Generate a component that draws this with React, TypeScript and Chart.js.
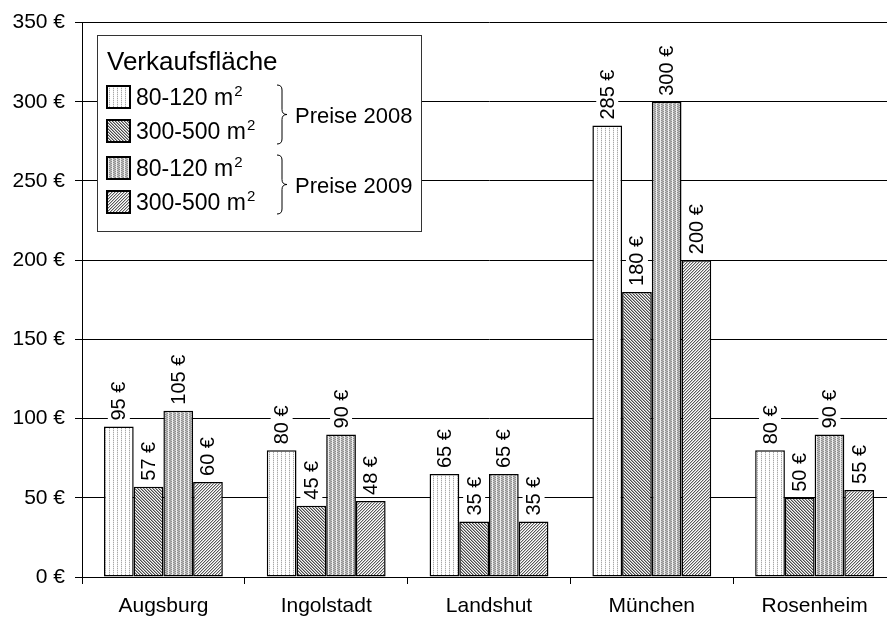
import React, { useEffect, useRef } from 'react';
import { Chart, registerables } from 'chart.js';

Chart.register(...registerables);

const categories = ['Augsburg', 'Ingolstadt', 'Landshut', 'München', 'Rosenheim'];
const small2008 = [95, 80, 65, 285, 80];
const large2008 = [57, 45, 35, 180, 50];
const small2009 = [105, 90, 65, 300, 90];
const large2009 = [60, 48, 35, 200, 55];
const yMin = 0;
const yMax = 350;
const yStep = 50;
const currency = '€';
const legendTitle = 'Verkaufsfläche';
const seriesLabels = ['80-120 m²', '300-500 m²', '80-120 m²', '300-500 m²'];
const groupLabels = ['Preise 2008', 'Preise 2009'];

const FONT = '"Liberation Sans", Arial, Helvetica, sans-serif';

function makePattern(w: number, h: number, fn: (x: number, y: number) => string): CanvasPattern | string {
  const c = document.createElement('canvas');
  c.width = w;
  c.height = h;
  const ctx = c.getContext('2d');
  if (!ctx) return '#ccc';
  for (let y = 0; y < h; y++) {
    for (let x = 0; x < w; x++) {
      ctx.fillStyle = fn(x, y);
      ctx.fillRect(x, y, 1, 1);
    }
  }
  const tmp = document.createElement('canvas').getContext('2d');
  return (tmp && tmp.createPattern(c, 'repeat')) || '#ccc';
}

function buildPatterns() {
  const p1 = makePattern(4, 2, (x, y) => (x === 1 ? (y === 0 ? '#a8a8a8' : '#e4e4e4') : '#ffffff'));
  const p2 = makePattern(3, 3, (x, y) => {
    const m = (((x - y) % 3) + 3) % 3;
    return ['#4a4a4a', '#a8a8a8', '#f8f8f8'][m];
  });
  const p3 = makePattern(4, 2, (x, y) => {
    if (x === 0) return '#eeeeee';
    if (x === 1) return y === 0 ? '#8c8c8c' : '#cccccc';
    if (x === 2) return '#a4a4a4';
    return y === 0 ? '#cccccc' : '#8c8c8c';
  });
  const p4 = makePattern(3, 3, (x, y) => {
    const m = (x + y) % 3;
    return ['#5a5a5a', '#c4c4c4', '#ffffff'][m];
  });
  return [p1, p2, p3, p4];
}

const barLabelPlugin = {
  id: 'barLabels',
  afterDatasetsDraw(chart: any) {
    const ctx = chart.ctx;
    ctx.save();
    ctx.font = `20px ${FONT}`;
    chart.data.datasets.forEach((ds: any, di: number) => {
      const meta = chart.getDatasetMeta(di);
      meta.data.forEach((bar: any, i: number) => {
        const text = `${ds.data[i]} ${currency}`;
        const w = ctx.measureText(text).width;
        ctx.save();
        ctx.translate(bar.x, bar.y - 6);
        ctx.rotate(-Math.PI / 2);
        ctx.fillStyle = '#ffffff';
        ctx.fillRect(-2, -11, w + 4, 22);
        ctx.fillStyle = '#000000';
        ctx.textAlign = 'left';
        ctx.textBaseline = 'middle';
        ctx.fillText(text, 0, 1);
        ctx.restore();
      });
    });
    ctx.restore();
  },
};

function drawBrace(ctx: CanvasRenderingContext2D, x: number, y0: number, y1: number, w: number) {
  const ym = (y0 + y1) / 2;
  const xm = x + w / 2;
  const r = 5;
  ctx.beginPath();
  ctx.moveTo(x, y0);
  ctx.quadraticCurveTo(xm, y0, xm, y0 + r);
  ctx.lineTo(xm, ym - r);
  ctx.quadraticCurveTo(xm, ym, x + w, ym);
  ctx.quadraticCurveTo(xm, ym, xm, ym + r);
  ctx.lineTo(xm, y1 - r);
  ctx.quadraticCurveTo(xm, y1, x, y1);
  ctx.stroke();
}

function makeLegendPlugin(patterns: any[]) {
  return {
    id: 'customLegend',
    afterDraw(chart: any) {
      const ctx: CanvasRenderingContext2D = chart.ctx;
      ctx.save();
      const bx = 97.5, by = 35.5, bw = 324, bh = 196;
      ctx.fillStyle = '#ffffff';
      ctx.fillRect(bx, by, bw, bh);
      ctx.strokeStyle = '#333333';
      ctx.lineWidth = 1;
      ctx.strokeRect(bx, by, bw, bh);

      ctx.fillStyle = '#000000';
      ctx.textBaseline = 'alphabetic';
      ctx.textAlign = 'left';
      ctx.font = `26px ${FONT}`;
      ctx.fillText(legendTitle, 107, 70);

      const rows = [97, 131, 168, 202];
      rows.forEach((cy, i) => {
        ctx.fillStyle = patterns[i];
        ctx.fillRect(107, cy - 11, 23, 22);
        ctx.strokeStyle = '#000000';
        ctx.lineWidth = 2;
        ctx.strokeRect(107, cy - 11, 23, 22);
        const lbl = seriesLabels[i];
        const main = lbl.replace('²', '');
        ctx.fillStyle = '#000000';
        ctx.font = `23px ${FONT}`;
        ctx.fillText(main, 136, cy + 8);
        const mw = ctx.measureText(main).width;
        if (lbl.includes('²')) {
          ctx.font = `15px ${FONT}`;
          ctx.fillText('2', 136 + mw + 1, cy - 1);
        }
      });

      ctx.strokeStyle = '#000000';
      ctx.lineWidth = 1;
      drawBrace(ctx, 277, 85, 144, 10);
      drawBrace(ctx, 277, 155, 214, 10);
      ctx.font = `22px ${FONT}`;
      ctx.fillStyle = '#000000';
      ctx.fillText(groupLabels[0], 295, 123);
      ctx.fillText(groupLabels[1], 295, 193);
      ctx.restore();
    },
  };
}

export default function App() {
  const ref = useRef<HTMLCanvasElement | null>(null);

  useEffect(() => {
    if (!ref.current) return;
    const patterns = buildPatterns();
    const series = [small2008, large2008, small2009, large2009];
    const chart = new Chart(ref.current, {
      type: 'bar',
      data: {
        labels: categories,
        datasets: series.map((d, i) => ({
          label: seriesLabels[i],
          data: d,
          backgroundColor: patterns[i] as any,
          borderColor: '#000000',
          borderWidth: 1.5,
          borderSkipped: false,
          categoryPercentage: 0.73,
          barPercentage: 1.0,
        })),
      },
      options: {
        responsive: false,
        animation: false,
        devicePixelRatio: 1,
        layout: { padding: { top: 22, left: 0, right: 0, bottom: 0 } },
        plugins: {
          legend: { display: false },
          title: { display: false },
          tooltip: { enabled: false },
        },
        scales: {
          x: {
            offset: true,
            grid: {
              display: true,
              offset: true,
              drawOnChartArea: false,
              drawTicks: true,
              tickLength: 7,
              color: '#000000',
            },
            border: { display: true, color: '#000000', width: 1 },
            ticks: {
              color: '#000000',
              font: { family: FONT, size: 21 },
              padding: 10,
              maxRotation: 0,
              autoSkip: false,
            },
            afterFit: (scale: any) => {
              scale.height = 44;
            },
          },
          y: {
            min: yMin,
            max: yMax,
            grid: {
              color: '#000000',
              lineWidth: 1,
              tickLength: 7,
              drawTicks: true,
            },
            border: { display: true, color: '#000000', width: 1 },
            ticks: {
              stepSize: yStep,
              color: '#000000',
              font: { family: FONT, size: 21 },
              padding: 10,
              callback: (v: any) => `${v} ${currency}`,
            },
            afterFit: (scale: any) => {
              scale.width = 82;
            },
          },
        },
      },
      plugins: [barLabelPlugin, makeLegendPlugin(patterns)],
    });
    return () => chart.destroy();
  }, []);

  return (
    <div style={{ position: 'fixed', left: 0, top: 0, width: 887, height: 621, overflow: 'hidden', background: '#fff' }}>
      <canvas ref={ref} width={896} height={621} style={{ width: 896, height: 621, display: 'block' }} />
    </div>
  );
}
